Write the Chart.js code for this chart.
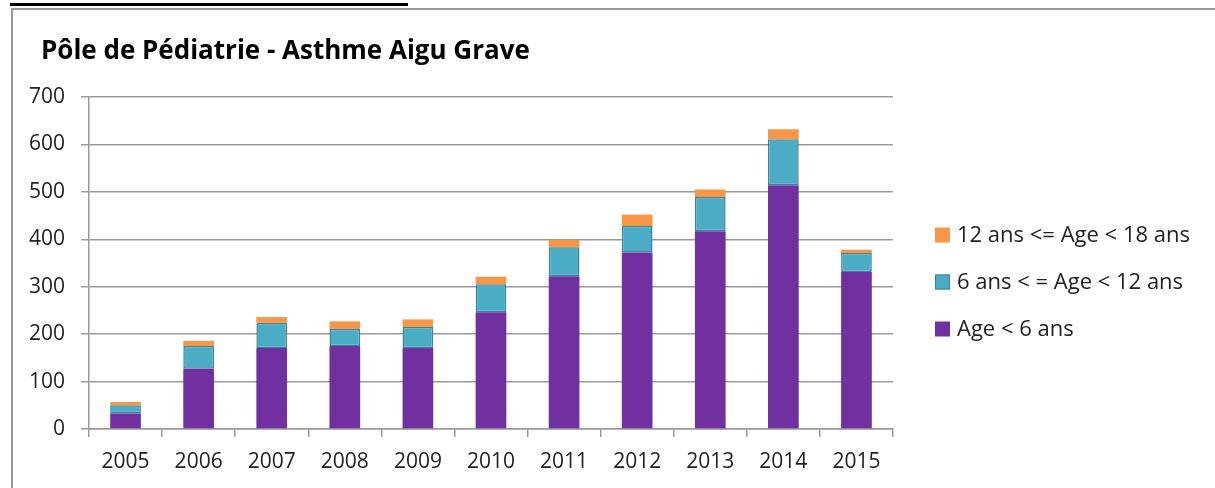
<!DOCTYPE html>
<html>
<head>
<meta charset="utf-8">
<script src="https://cdn.jsdelivr.net/npm/chart.js@4"></script>
<style>
    body { margin: 0; background: #fff; overflow: hidden; }
    #topline { position: absolute; left: 10px; top: 3px; width: 398px; height: 3px; background: #000; }
    #frame { position: absolute; left: 11px; top: 8px; width: 1300px; height: 600px; border: 2px solid #999; box-sizing: border-box; }
    #wrap { position: absolute; left: 0; top: 0; width: 1215px; height: 488px; }
</style>
</head>
<body>
<div id="topline"></div>
<div id="frame"></div>
<div id="wrap"><canvas id="myChart" width="1215" height="488"></canvas></div>
<script>
const years = ['2005', '2006', '2007', '2008', '2009', '2010', '2011', '2012', '2013', '2014', '2015'];
const under6 = [33, 127, 171, 175, 171, 246, 322, 372, 417, 514, 331];
const from6to12 = [17, 48, 53, 36, 44, 59, 61, 56, 72, 97, 40];
const from12to18 = [7, 11, 12, 16, 16, 16, 16, 24, 16, 21, 7];
const seriesNames = ['Age < 6 ans', '6 ans < = Age < 12 ans', '12 ans <= Age < 18 ans'];
const yTicks = [0, 100, 200, 300, 400, 500, 600, 700];
const chartTitle = 'Pôle de Pédiatrie - Asthme Aigu Grave';

const fontFamily = '"Open Sans", sans-serif';
const gridColor = '#9a9a9a';

// title top-left and legend on the right (top item = last series)
const sideLegend = {
    id: 'sideLegend',
    afterDraw(chart) {
        const ctx = chart.ctx;
        ctx.save();
        ctx.textAlign = 'left';
        ctx.textBaseline = 'alphabetic';
        ctx.fillStyle = '#000';
        ctx.font = 'bold 26px ' + fontFamily;
        ctx.fillText(chartTitle, 41, 59);

        const sets = chart.data.datasets.slice().reverse();
        ctx.textBaseline = 'middle';
        ctx.font = '22px ' + fontFamily;
        sets.forEach((ds, i) => {
            const cy = 235 + i * 47;
            ctx.fillStyle = ds.backgroundColor;
            ctx.fillRect(935, cy - 7.5, 15, 15);
            if (ds.borderWidth) {
                ctx.strokeStyle = ds.borderColor;
                ctx.lineWidth = 1;
                ctx.strokeRect(935.5, cy - 7, 14, 14);
            }
            ctx.fillStyle = '#222';
            ctx.fillText(ds.label, 957, cy + 1);
        });
        ctx.restore();
    }
};

const ctx = document.getElementById('myChart').getContext('2d');
const myChart = new Chart(ctx, {
    type: 'bar',
    data: {
        labels: years,
        datasets: [{
            label: seriesNames[0],
            data: under6,
            backgroundColor: '#7030A0',
            borderWidth: 0
        }, {
            label: seriesNames[1],
            data: from6to12,
            backgroundColor: '#4BACC6',
            borderColor: '#35879d',
            borderWidth: 1.5,
            borderSkipped: false
        }, {
            label: seriesNames[2],
            data: from12to18,
            backgroundColor: '#F79646',
            borderWidth: 0
        }]
    },
    options: {
        responsive: false,
        animation: false,
        events: [],
        layout: {
            padding: { left: 0, top: 97, right: 322, bottom: 0 }
        },
        datasets: {
            bar: { categoryPercentage: 1, barPercentage: 0.42 }
        },
        plugins: {
            legend: { display: false },
            tooltip: { enabled: false }
        },
        scales: {
            x: {
                stacked: true,
                grid: { offset: true, drawOnChartArea: false, drawTicks: true, tickLength: 8, color: gridColor, lineWidth: 1.5 },
                border: { color: gridColor, width: 1.5 },
                ticks: { color: '#222', font: { family: fontFamily, size: 21 }, padding: 12, maxRotation: 0 },
                afterFit(scale) { scale.height = 59; }
            },
            y: {
                stacked: true,
                min: 0,
                max: 700,
                afterBuildTicks(scale) { scale.ticks = yTicks.map(v => ({ value: v })); },
                grid: { color: gridColor, lineWidth: 1.5, tickLength: 8 },
                border: { color: gridColor, width: 1.5 },
                ticks: { color: '#222', font: { family: fontFamily, size: 21 }, padding: 16 },
                afterFit(scale) { scale.width = 89; }
            }
        }
    },
    plugins: [sideLegend]
});
</script>
</body>
</html>
